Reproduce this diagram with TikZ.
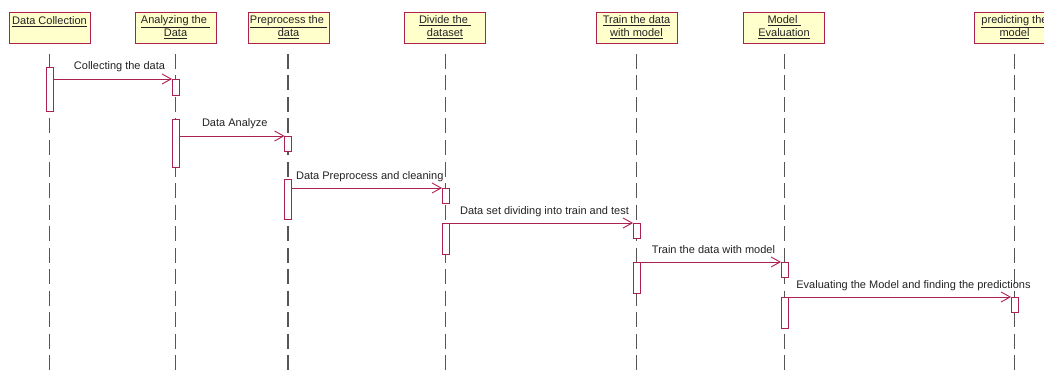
\documentclass[tikz,border=0pt]{standalone}
\usepackage{fontspec}
\setmainfont{Liberation Sans}
\usetikzlibrary{arrows.meta}
\definecolor{umlred}{RGB}{172,34,78}
\definecolor{umlfill}{RGB}{255,255,204}
\definecolor{lifegray}{RGB}{85,85,85}
\definecolor{txt}{RGB}{34,34,34}
\begin{document}
\begin{tikzpicture}[x=1pt,y=-1pt,
  font=\fontsize{11}{13}\selectfont, text=txt,
  objbox/.style={draw=umlred, fill=umlfill, line width=0.9pt,
    minimum width=81pt, minimum height=31pt, inner sep=1pt, align=center},
  lifeline/.style={draw=lifegray, line width=1.1pt, dash pattern=on 15pt off 6.5pt},
  actbox/.style={draw=umlred, fill=white, line width=0.9pt,
    minimum width=7pt, inner sep=0pt, outer sep=0pt},
  msg/.style={draw=umlred, line width=0.9pt, -{Straight Barb[length=9pt,width=10pt]}},
  msglabel/.style={midway, anchor=base, yshift=9pt, text=txt}]
\clip (0,0) rectangle (1044,377);

% object headers
\node[objbox] (h1) at (49.5,27.5)  {\underline{Data Collection}\\ \mbox{}};
\node[objbox] (h2) at (175.5,27.5) {\underline{Analyzing the\ }\\ \underline{Data}};
\node[objbox] (h3) at (288.5,27.5) {\underline{Preprocess the\ }\\ \underline{data}};
\node[objbox] (h4) at (445,27.5)   {\underline{Divide the\ }\\ \underline{dataset}};
\node[objbox] (h5) at (636.5,27.5) {\underline{Train the data}\\ \underline{with model}};
\node[objbox] (h6) at (784,27.5)   {\underline{Model\ }\\ \underline{Evaluation}};
\node[objbox] (h7) at (1014.5,27.5){\underline{predicting the}\\ \underline{model}};

% lifelines
\foreach \i/\x in {1/49.5,2/175.5,3/288,4/445.5,5/636.5,6/784.5,7/1014.5}{
  \coordinate (s\i) at (\x,54);
  \coordinate (e\i) at (\x,377);
  \draw[lifeline] (s\i) -- (e\i);
}

% activation bars
\node[actbox, minimum height=44pt] (a1) at (49.5,89) {};
\node[actbox, minimum height=16pt] (b1) at (175.5,87) {};
\node[actbox, minimum height=48pt] (b2) at (175.5,143) {};
\node[actbox, minimum height=15pt] (c1) at (288,143.5) {};
\node[actbox, minimum height=40pt] (c2) at (288,199) {};
\node[actbox, minimum height=15pt] (d1) at (445.5,195.5) {};
\node[actbox, minimum height=31pt] (d2) at (445.5,238.5) {};
\node[actbox, minimum height=15pt] (t1) at (636.5,230.5) {};
\node[actbox, minimum height=31pt] (t2) at (636.5,277.5) {};
\node[actbox, minimum height=15pt] (m1) at (784.5,269.5) {};
\node[actbox, minimum height=31pt] (m2) at (784.5,312.5) {};
\node[actbox, minimum height=15pt] (p1) at (1014.5,304.5) {};

% messages
\draw[msg] (a1.east |- b1.north west) -- (b1.north west)
  node[msglabel, xshift=7pt] {Collecting the data};
\draw[msg] (b2.east |- c1.north west) -- (c1.north west)
  node[msglabel, xshift=3pt] {Data Analyze};
\draw[msg] (c2.east |- d1.north west) -- (d1.north west)
  node[msglabel, xshift=3pt] {Data Preprocess and cleaning};
\draw[msg] (d2.east |- t1.north west) -- (t1.north west)
  node[msglabel, xshift=3.5pt] {Data set dividing into train and test};
\draw[msg] (t2.east |- m1.north west) -- (m1.north west)
  node[msglabel, xshift=3pt] {Train the data with model};
\draw[msg] (m2.east |- p1.north west) -- (p1.north west)
  node[msglabel, xshift=14pt] {Evaluating the Model and finding the predictions};
\end{tikzpicture}
\end{document}
